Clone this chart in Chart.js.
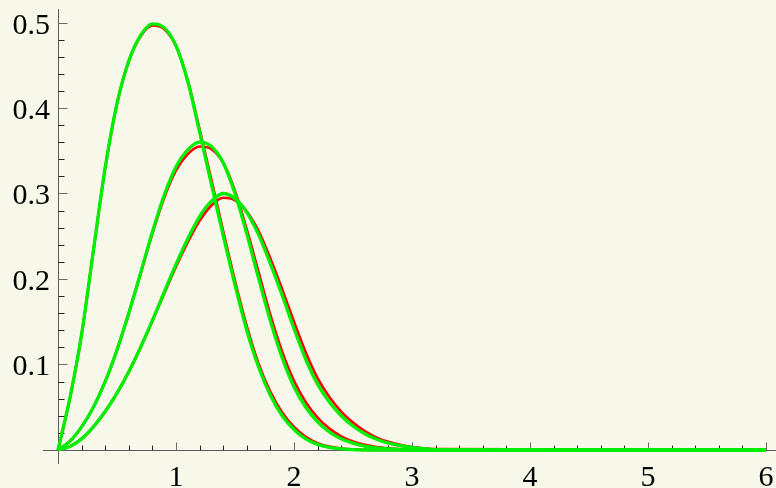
<!DOCTYPE html>
<html>
<head>
<meta charset="utf-8">
<script src="https://cdn.jsdelivr.net/npm/chart.js@4.4.0/dist/chart.umd.min.js"></script>
<style>
    html, body { margin: 0; padding: 0; background: #f7f7ea; }
    #wrap { width: 776px; height: 488px; }
</style>
</head>
<body>
<div id="wrap"><canvas id="plot" width="776" height="488"></canvas></div>
<script>
// --- DATA ---
const xs = [0, 0.1, 0.2, 0.3, 0.4, 0.5, 0.6, 0.7, 0.8, 0.9, 1.0, 1.1, 1.2, 1.3, 1.4, 1.5, 1.6,
    1.7, 1.8, 1.9, 2.0, 2.1, 2.2, 2.3, 2.4, 2.5, 2.6, 2.7, 2.8, 2.9, 3.0, 3.1, 3.2, 6];

// exact curves (red)
const red1 = [0, 0.060, 0.135, 0.233, 0.330, 0.405, 0.455, 0.484, 0.4965, 0.4925, 0.4725, 0.432, 0.375,
    0.316, 0.256, 0.198, 0.145, 0.101, 0.068, 0.044, 0.027, 0.0155, 0.008, 0.004, 0.0018, 0.0007,
    0.0002, 0, 0, 0, 0, 0, 0, 0];
const red2 = [0, 0.010, 0.027, 0.050, 0.080, 0.117, 0.160, 0.206, 0.253, 0.295, 0.327, 0.346, 0.355,
    0.352, 0.336, 0.303, 0.258, 0.208, 0.158, 0.115, 0.081, 0.056, 0.038, 0.025, 0.016, 0.010,
    0.006, 0.0035, 0.002, 0.001, 0.0005, 0.0002, 0, 0];
const red3 = [0, 0.004, 0.013, 0.027, 0.045, 0.0665, 0.0915, 0.120, 0.151, 0.183, 0.2145, 0.243, 0.268,
    0.286, 0.295, 0.292, 0.279, 0.256, 0.224, 0.188, 0.150, 0.114, 0.084, 0.062, 0.045, 0.032,
    0.022, 0.0145, 0.0095, 0.006, 0.0035, 0.002, 0.001, 0];

// approximations (green)
const green1 = [0, 0.060, 0.135, 0.233, 0.330, 0.405, 0.455, 0.485, 0.4985, 0.494, 0.473, 0.431, 0.372,
    0.311, 0.251, 0.193, 0.140, 0.097, 0.064, 0.040, 0.024, 0.013, 0.0065, 0.003, 0.0012, 0.0004,
    0, 0, 0, 0, 0, 0, 0, 0];
const green2 = [0, 0.010, 0.027, 0.050, 0.080, 0.117, 0.160, 0.207, 0.255, 0.298, 0.331, 0.351, 0.360,
    0.355, 0.336, 0.300, 0.253, 0.201, 0.151, 0.108, 0.074, 0.050, 0.033, 0.021, 0.013, 0.008,
    0.0045, 0.0025, 0.0012, 0.0005, 0.0002, 0, 0, 0];
const green3 = [0, 0.004, 0.013, 0.027, 0.045, 0.0665, 0.0915, 0.120, 0.1515, 0.1845, 0.217, 0.247, 0.273,
    0.291, 0.300, 0.294, 0.278, 0.252, 0.218, 0.181, 0.142, 0.106, 0.077, 0.056, 0.040, 0.028,
    0.019, 0.0125, 0.008, 0.005, 0.003, 0.0015, 0.0005, 0];

// tick labels
const xTicks = [1, 2, 3, 4, 5, 6];
const xTickLabels = ['1', '2', '3', '4', '5', '6'];
const yTicks = [0.1, 0.2, 0.3, 0.4, 0.5];
const yTickLabels = ['0.1', '0.2', '0.3', '0.4', '0.5'];

const toPoints = arr => xs.map((x, i) => ({ x: x, y: arr[i] }));

// --- AXES THROUGH THE ORIGIN ---
const originAxes = {
    id: 'originAxes',
    beforeDatasetsDraw(chart) {
        const { ctx, chartArea, scales: { x, y } } = chart;
        const x0 = Math.round(x.getPixelForValue(0)) + 0.5;
        const y0 = Math.round(y.getPixelForValue(0)) + 0.5;

        ctx.save();
        ctx.lineWidth = 1;
        ctx.strokeStyle = '#5a5a5a';
        ctx.beginPath();
        ctx.moveTo(chartArea.left, y0);
        ctx.lineTo(chartArea.right, y0);
        ctx.moveTo(x0, chartArea.top);
        ctx.lineTo(x0, chartArea.bottom);
        ctx.stroke();

        // minor ticks
        ctx.strokeStyle = '#222';
        ctx.beginPath();
        for (let i = 1; i <= 30; i++) {
            if (i % 5 === 0) continue;
            const px = Math.round(x.getPixelForValue(i * 0.2)) + 0.5;
            ctx.moveTo(px, y0);
            ctx.lineTo(px, y0 - 5);
        }
        for (let i = 1; i <= 25; i++) {
            if (i % 5 === 0) continue;
            const py = Math.round(y.getPixelForValue(i * 0.02)) + 0.5;
            ctx.moveTo(x0, py);
            ctx.lineTo(x0 + 6, py);
        }
        ctx.stroke();

        // major ticks
        ctx.strokeStyle = '#6a6a6a';
        ctx.beginPath();
        xTicks.forEach(v => {
            const px = Math.round(x.getPixelForValue(v)) + 0.5;
            ctx.moveTo(px, y0);
            ctx.lineTo(px, y0 - 8);
        });
        yTicks.forEach(v => {
            const py = Math.round(y.getPixelForValue(v)) + 0.5;
            ctx.moveTo(x0, py);
            ctx.lineTo(x0 + 9, py);
        });
        ctx.stroke();

        // tick labels
        ctx.fillStyle = '#000';
        ctx.font = '30px "Liberation Serif", "DejaVu Serif", serif';
        ctx.textBaseline = 'alphabetic';
        ctx.textAlign = 'center';
        xTicks.forEach((v, i) => {
            ctx.fillText(xTickLabels[i], x.getPixelForValue(v), 486);
        });
        ctx.textAlign = 'right';
        yTicks.forEach((v, i) => {
            ctx.fillText(yTickLabels[i], 50, y.getPixelForValue(v) + 11);
        });
        ctx.restore();
    }
};

// --- CHART ---
const lineSet = (data, color, width) => ({
    data: toPoints(data),
    borderColor: color,
    borderWidth: width,
    pointRadius: 0,
    fill: false,
    cubicInterpolationMode: 'monotone'
});

new Chart(document.getElementById('plot').getContext('2d'), {
    type: 'line',
    data: {
        // first datasets are drawn on top
        datasets: [
            lineSet(green1, '#00ee00', 3.3),
            lineSet(green2, '#00ee00', 3.3),
            lineSet(green3, '#00ee00', 3.3),
            lineSet(red1, '#ff0000', 2.6),
            lineSet(red2, '#ff0000', 2.6),
            lineSet(red3, '#ff0000', 2.6)
        ]
    },
    options: {
        responsive: false,
        animation: false,
        devicePixelRatio: 1,
        layout: { padding: { left: 43, right: 0, top: 9, bottom: 24 } },
        plugins: { legend: { display: false }, tooltip: { enabled: false } },
        scales: {
            x: { type: 'linear', min: -0.127, max: 6.085, display: false },
            y: { type: 'linear', min: -0.0164, max: 0.5158, display: false }
        }
    },
    plugins: [originAxes]
});
</script>
</body>
</html>
